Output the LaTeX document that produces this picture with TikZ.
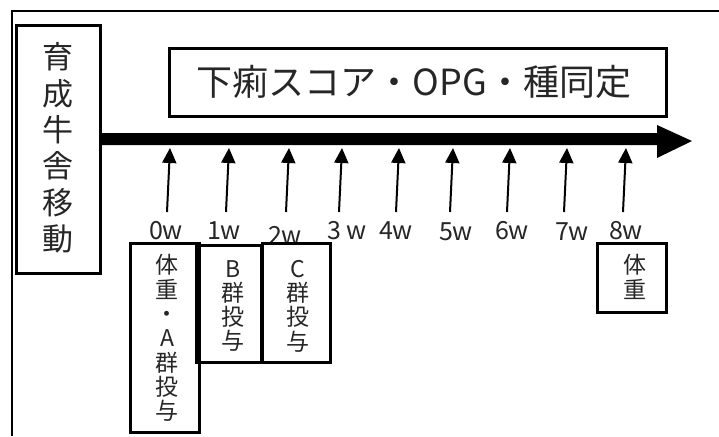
\documentclass[tikz,border=0pt]{standalone}
\usepackage{fontspec}
\setmainfont{Noto Sans CJK JP}
\usetikzlibrary{arrows.meta}
\tikzset{
  boxline/.style={draw=black, line width=3pt},
  vtext/.style={align=center, inner sep=0pt, text=black!85},
  wlabel/.style={inner sep=0pt, text=black!85, font=\fontsize{25}{27}\selectfont},
  uparrow/.style={line width=2pt, -{Triangle[width=14pt,length=15pt]}},
}
\begin{document}
\begin{tikzpicture}[x=1pt,y=-1pt]
\useasboundingbox (0,0) rectangle (719,436);
% outer frame (only top and left visible)
\coordinate (fTL) at (12,11);
\coordinate (fTR) at (719,11);
\coordinate (fBL) at (12,436);
\draw[line width=2.3pt] (fBL) -- (fTL) -- (fTR);
% left box
\draw[boxline] (16,26) rectangle (100,273);
\node[vtext, font=\fontsize{31}{36.4}\selectfont] (move) at (58,148) {育\\成\\牛\\舎\\移\\動};
% top box
\draw[boxline] (169,49) rectangle (666,116);
\node[vtext, font=\fontsize{36}{38}\selectfont] (score) at (414,82) {下痢スコア・OPG・種同定};
% main arrow
\coordinate (a0) at (100,133);
\coordinate (a1) at (657,133);
\coordinate (a2) at (657,125);
\coordinate (tip) at (692,141);
\coordinate (a3) at (657,158);
\coordinate (a4) at (657,145);
\coordinate (a5) at (100,145);
\fill[black] (a0) -- (a1) -- (a2) -- (tip) -- (a3) -- (a4) -- (a5) -- cycle;
% small arrows
\foreach \i/\x in {0/170,1/229,2/289,3/342,4/399,5/453,6/510,7/567,8/626}{
  \coordinate (s\i) at (\x-3,212);
  \coordinate (e\i) at (\x,148);
  \draw[uparrow] (s\i) -- (e\i);
}
% week labels
\node[wlabel] (w0) at (166,231) {0w};
\node[wlabel] (w1) at (224,231) {1w};
\node[wlabel] (w2) at (285,235) {2w};
\node[wlabel] (w3) at (347,231) {3 w};
\node[wlabel] (w4) at (396,231) {4w};
\node[wlabel] (w5) at (456,232) {5w};
\node[wlabel] (w6) at (512,231) {6w};
\node[wlabel] (w7) at (572,232) {7w};
\node[wlabel] (w8) at (626,231) {8w};
% lower boxes
\draw[boxline] (130,243) rectangle (199,432);
\node[vtext, font=\fontsize{23}{24.3}\selectfont] (boxA) at (167,338) {体\\重\\・\\A\\群\\投\\与};
\draw[boxline] (196,245) rectangle (261,362);
\node[vtext, font=\fontsize{23}{24.3}\selectfont] (boxB) at (233,306) {B\\群\\投\\与};
\draw[boxline] (262,243) rectangle (330,362);
\node[vtext, font=\fontsize{23}{24.3}\selectfont] (boxC) at (298,306) {C\\群\\投\\与};
\draw[boxline] (597,243) rectangle (666,312);
\node[vtext, font=\fontsize{23}{24.3}\selectfont] (box8) at (635,277) {体\\重};
\end{tikzpicture}
\end{document}
